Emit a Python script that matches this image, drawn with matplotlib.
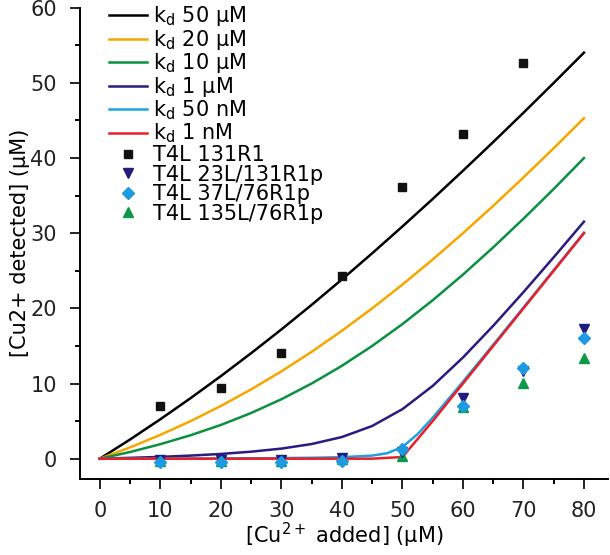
import matplotlib
matplotlib.use("Agg")
import matplotlib.pyplot as plt
from matplotlib.ticker import MultipleLocator

plt.rcParams["font.family"] = ["DejaVu Sans"]
plt.rcParams["mathtext.fontset"] = "dejavusans"

# model curves (at 5 uM steps)
cu_added = [0, 5, 10, 15, 20, 25, 30, 35, 40, 45, 50, 55, 60, 65, 70, 75, 80]
kd_50uM = [0, 2.56, 5.25, 8.06, 10.99, 14.04, 17.20, 20.47, 23.85, 27.33, 30.90, 34.56, 38.31, 42.13, 46.03, 50.00, 54.03]
kd_20uM = [0, 1.50, 3.17, 5.00, 7.02, 9.22, 11.62, 14.22, 17.02, 20.00, 23.17, 26.50, 30.00, 33.64, 37.42, 41.31, 45.31]
kd_10uM = [0, 0.89, 1.93, 3.12, 4.49, 6.08, 7.91, 10.00, 12.36, 15.00, 17.91, 21.08, 24.49, 28.12, 31.93, 35.89, 40.00]
kd_1uM = [0, 0.11, 0.24, 0.41, 0.63, 0.93, 1.34, 1.95, 2.88, 4.35, 6.59, 9.68, 13.46, 17.68, 22.16, 26.80, 31.54]
cu_added_50nM = [0, 5, 10, 15, 20, 25, 30, 35, 40, 45, 47.5, 50, 52.5, 55, 60, 65, 70, 75, 80]
kd_50nM = [0, 0.01, 0.01, 0.02, 0.03, 0.05, 0.08, 0.12, 0.20, 0.41, 0.73, 1.56, 3.26, 5.45, 10.24, 15.16, 20.12, 25.10, 30.08]
cu_added_1nM = [0, 5, 10, 15, 20, 25, 30, 35, 40, 45, 50, 55, 60, 65, 70, 75, 80]
kd_1nM = [0, 0, 0, 0, 0, 0, 0, 0, 0, 0, 0.22, 5.0, 10.0, 15.0, 20.0, 25.0, 30.0]

# measured points
x_131 = [10, 20, 30, 40, 50, 60, 70]
t4l_131 = [7.0, 9.4, 14.0, 24.3, 36.2, 43.2, 52.7]
x_mut = [10, 20, 30, 40, 50, 60, 70, 80]
t4l_23 = [-0.2, -0.2, -0.2, 0.1, 0.9, 8.1, 11.7, 17.3]
t4l_37 = [-0.4, -0.4, -0.4, -0.35, 1.3, 7.0, 12.0, 16.1]
t4l_135 = [-0.3, -0.3, -0.3, -0.1, 0.4, 6.9, 10.1, 13.4]

fig = plt.figure(figsize=(6.1, 5.55), dpi=100)
ax = fig.add_axes([0.131, 0.137, 0.866, 0.849])

lw = 1.8
ax.plot(cu_added, kd_50uM, color="#000000", lw=lw, label=r"k$_\mathregular{d}$ 50 µM")
ax.plot(cu_added, kd_20uM, color="#F7A600", lw=lw, label=r"k$_\mathregular{d}$ 20 µM")
ax.plot(cu_added, kd_10uM, color="#0A9040", lw=lw, label=r"k$_\mathregular{d}$ 10 µM")
ax.plot(cu_added, kd_1uM, color="#2B1A80", lw=lw, label=r"k$_\mathregular{d}$ 1 µM")
ax.plot(cu_added_50nM, kd_50nM, color="#1AA3E0", lw=lw, label=r"k$_\mathregular{d}$ 50 nM")
ax.plot(cu_added_1nM, kd_1nM, color="#EE1C25", lw=lw, label=r"k$_\mathregular{d}$ 1 nM")

ax.plot(x_131, t4l_131, ls="none", marker="s", ms=6, color="#111111", label="T4L 131R1", zorder=5)
ax.plot(x_mut, t4l_23, ls="none", marker="v", ms=7.5, color="#221C7C", label="T4L 23L/131R1p", zorder=5)
ax.plot(x_mut, t4l_37, ls="none", marker="D", ms=6.5, color="#1E9AE0", label="T4L 37L/76R1p", zorder=7)
ax.plot(x_mut, t4l_135, ls="none", marker="^", ms=7.5, color="#0C9A4A", label="T4L 135L/76R1p", zorder=4)

ax.set_xlim(-3.3, 84)
ax.set_ylim(-2.7, 60)
ax.xaxis.set_major_locator(MultipleLocator(10))
ax.xaxis.set_minor_locator(MultipleLocator(5))
ax.yaxis.set_major_locator(MultipleLocator(10))
ax.yaxis.set_minor_locator(MultipleLocator(5))
for side in ("top", "right"):
  ax.spines[side].set_visible(False)
for side in ("left", "bottom"):
  ax.spines[side].set_linewidth(1.4)
ax.tick_params(which="major", direction="out", length=7, width=1.4, labelsize=15, pad=9, colors="#222222")
ax.tick_params(which="minor", direction="out", length=3.5, width=1.4)
ax.tick_params(axis="y", which="major", length=7.5, pad=9)

ax.set_xlabel(r"[Cu$^{2+}$ added] (µM)", fontsize=15, labelpad=0)
ax.set_ylabel("[Cu2+ detected] (µM)", fontsize=15, labelpad=0)

ax.legend(loc="upper left", bbox_to_anchor=(0.04, 1.025), frameon=False, fontsize=15,
          handlelength=1.8, handletextpad=0.3, labelspacing=-0.02, borderaxespad=0,
          numpoints=1)

fig.savefig("out.png", dpi=100)
